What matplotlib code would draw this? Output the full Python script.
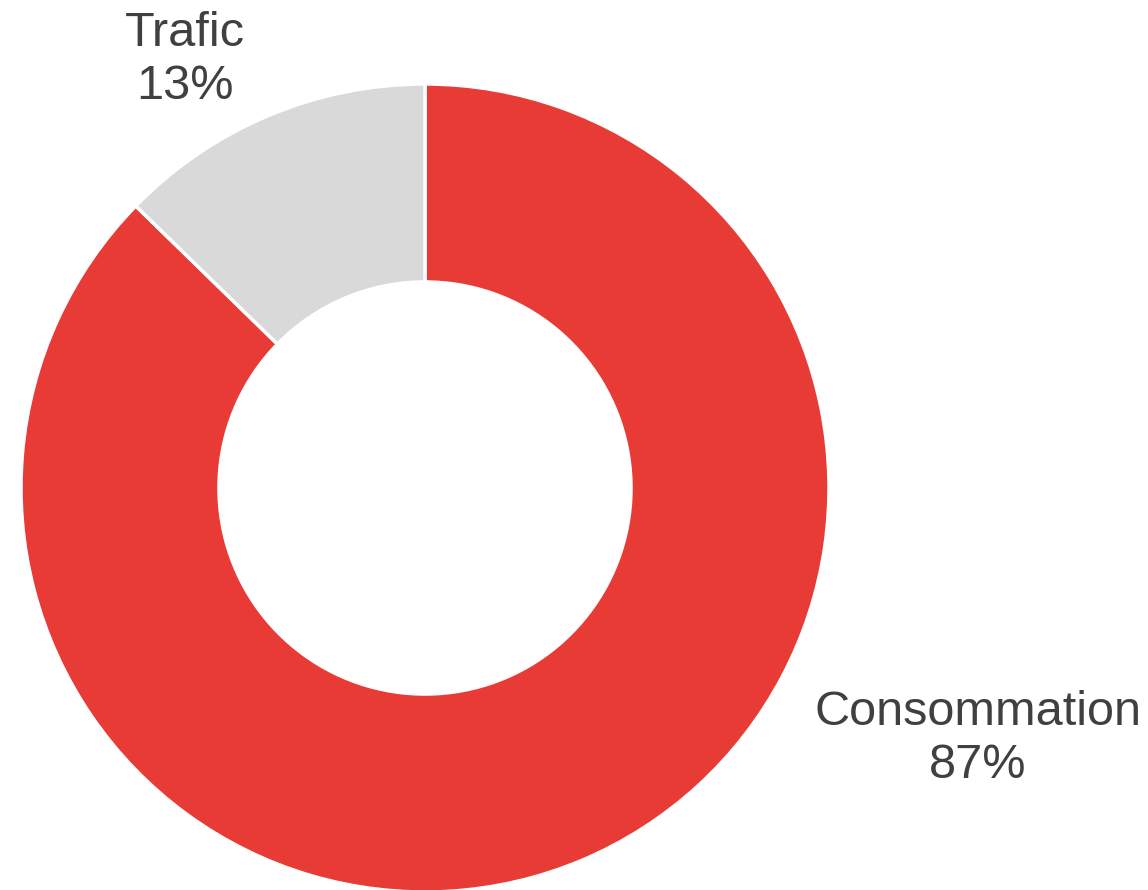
import matplotlib
matplotlib.use('Agg')
import matplotlib.pyplot as plt

# data
labels = ['Consommation', 'Trafic']
shares = [87.3, 12.7]
colors = ['#E83B35', '#D9D9D9']

plt.rcParams['font.family'] = ['Liberation Sans', 'DejaVu Sans']

W, H = 1148, 890
fig = plt.figure(figsize=(W / 100, H / 100), dpi=100)
ax = fig.add_axes([0, 0, 1, 1])

# donut, clockwise from the top
cx, cy, r = 425, H - 488, 404
ax.pie(shares, colors=colors, startangle=90, counterclock=False,
       center=(cx, cy), radius=r, frame=True,
       wedgeprops=dict(width=r * 0.49, edgecolor='white', linewidth=2.5))
ax.set_xlim(0, W)
ax.set_ylim(0, H)
ax.set_aspect('equal')
ax.axis('off')

# labels outside
pos = {'Consommation': (978, H - 739), 'Trafic': (185, H - 60)}
for lab, val in zip(labels, shares):
    x, y = pos[lab]
    ax.text(x, y, '%s\n%d%%' % (lab, round(val)), ha='center', va='center',
            fontsize=35, color='#404040', linespacing=1.22)

fig.savefig('out.png', dpi=100)
